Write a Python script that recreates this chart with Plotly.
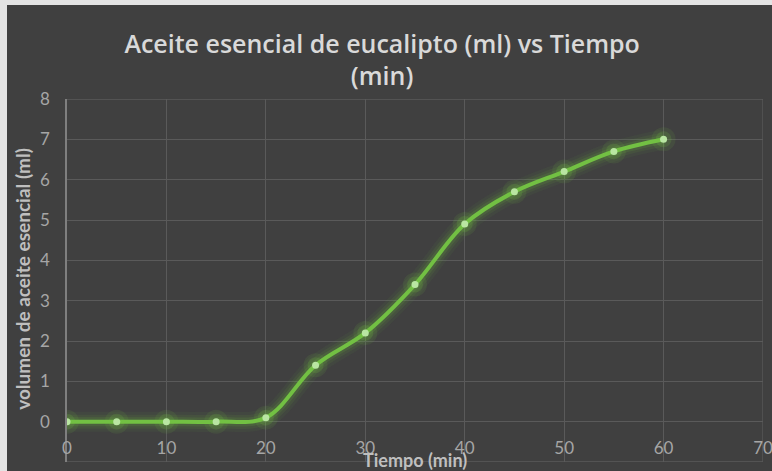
import plotly.graph_objects as go

# Eucalyptus essential oil distillation: collected volume over time
tiempo_min = [0, 5, 10, 15, 20, 25, 30, 35, 40, 45, 50, 55, 60]
volumen_ml = [0, 0, 0, 0, 0.1, 1.4, 2.2, 3.4, 4.9, 5.7, 6.2, 6.7, 7.0]
x_ticks = [0, 10, 20, 30, 40, 50, 60, 70]
y_ticks = [-1, 0, 1, 2, 3, 4, 5, 6, 7, 8]

FONT = "Lato, 'Open Sans', sans-serif"
TITLE_FONT = "'Open Sans', Lato, sans-serif"
BG = "#404040"
GRID = "#5a5a5a"
LINE = "#72c043"
DOT = "#b9e6a2"

fig = go.Figure()

# soft glow behind the curve
for w, a in [(20, 0.06), (14, 0.09), (9, 0.15)]:
    fig.add_trace(go.Scatter(
        x=tiempo_min, y=volumen_ml, mode="lines",
        line=dict(color=f"rgba(110,190,60,{a})", width=w, shape="spline", smoothing=1),
        hoverinfo="skip", showlegend=False))
# glow around the markers
for s, a in [(24, 0.10), (16, 0.16)]:
    fig.add_trace(go.Scatter(
        x=tiempo_min, y=volumen_ml, mode="markers",
        marker=dict(color=f"rgba(120,200,70,{a})", size=s, line=dict(width=0)),
        hoverinfo="skip", showlegend=False))

fig.add_trace(go.Scatter(
    x=tiempo_min, y=volumen_ml, mode="lines+markers",
    line=dict(color=LINE, width=4, shape="spline", smoothing=1),
    marker=dict(color=DOT, size=7, line=dict(width=0)),
    showlegend=False))

# grid lines on the range boundaries (plotly omits those)
edge = dict(color=GRID, width=1.3)
shapes = [
    dict(type="rect", xref="paper", yref="paper",
         x0=-0.0862, x1=1.02, y0=-0.03, y1=1.259,
         fillcolor=BG, line=dict(width=0), layer="below"),
    dict(type="line", xref="x", yref="paper", x0=x_ticks[-1], x1=x_ticks[-1],
         y0=0, y1=1, line=edge, layer="below"),
    dict(type="line", xref="paper", yref="y", x0=0, x1=1,
         y0=y_ticks[0], y1=y_ticks[0], line=edge, layer="below"),
    dict(type="line", xref="paper", yref="y", x0=0, x1=1,
         y0=y_ticks[-1], y1=y_ticks[-1], line=edge, layer="below"),
]

fig.update_layout(
    width=772, height=471,
    margin=dict(l=67, r=9, t=99, b=9, autoexpand=False),
    paper_bgcolor="#e4e4e4",
    plot_bgcolor=BG,
    font=dict(family=FONT, color="#a6a6a6"),
    title=dict(
        text="Aceite esencial de eucalipto (ml) vs Tiempo<br>(min)",
        x=0.495, xref="container", xanchor="center",
        y=0.888, yref="container", yanchor="middle",
        font=dict(family=TITLE_FONT, size=25, weight=600, color="#d9d9d9")),
    shapes=shapes,
    xaxis=dict(
        range=[0, 70], tickvals=x_ticks, ticktext=[str(v) for v in x_ticks],
        showgrid=True, gridcolor=GRID, gridwidth=1.3,
        zeroline=False, showline=False, automargin=False,
        anchor="free", position=(0 - (-1)) / 9,
        ticks="", ticklabelstandoff=14, ticklabeloverflow="allow",
        tickfont=dict(family=FONT, size=17, color="#a6a6a6")),
    yaxis=dict(
        range=[-1, 8], tickvals=y_ticks, ticktext=[str(v) for v in y_ticks],
        showgrid=True, gridcolor=GRID, gridwidth=1.3,
        zeroline=False, showline=True, linecolor="#7f7f7f", linewidth=1.5,
        automargin=False,
        ticks="", ticklabelstandoff=12,
        tickfont=dict(family=FONT, size=17, color="#a6a6a6")),
    annotations=[
        dict(text="<b>Tiempo (min)</b>", xref="paper", yref="paper",
             x=0.5, y=0.005, xanchor="center", yanchor="middle", showarrow=False,
             font=dict(family=FONT, size=18, color="#bfbfbf")),
        dict(text="<b>volumen de aceite esencial (ml)</b>", xref="paper", yref="paper",
             x=-0.065, y=0.504, xanchor="center", yanchor="middle", showarrow=False,
             textangle=-90, font=dict(family=FONT, size=19, color="#bfbfbf")),
    ],
)

fig.write_html("out.html")
